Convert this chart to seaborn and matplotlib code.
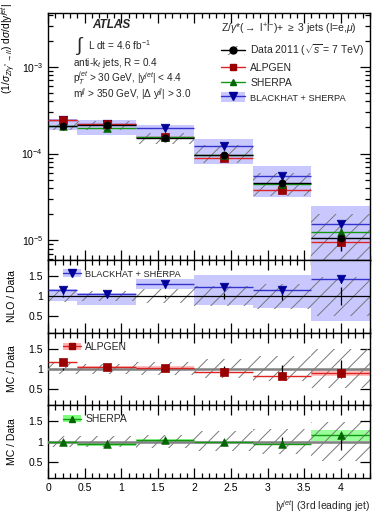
import numpy as np
import pandas as pd
import matplotlib
matplotlib.use("Agg")
import matplotlib.pyplot as plt
import seaborn as sns
from matplotlib.patches import Patch
from matplotlib.lines import Line2D
from matplotlib.ticker import MultipleLocator, FixedLocator, NullFormatter

# ---------------- data ----------------
bin_edges = [0.0, 0.4, 1.2, 2.0, 2.8, 3.6, 4.4]
bin_centers = [0.2, 0.8, 1.6, 2.4, 3.2, 4.0]

data_xs = [2.10e-4, 2.12e-4, 1.53e-4, 9.7e-5, 4.6e-5, 1.06e-5]
data_band_lo = [1.89e-4, 1.89e-4, 1.28e-4, 7.8e-5, 3.2e-5, 5.0e-6]
data_band_hi = [2.40e-4, 2.36e-4, 1.72e-4, 1.25e-4, 6.0e-5, 2.0e-5]
data_stat_rel = [0.03, 0.03, 0.04, 0.07, 0.12, 0.30]

alpgen_xs = [2.45e-4, 2.22e-4, 1.55e-4, 8.9e-5, 3.75e-5, 9.5e-6]
sherpa_xs = [2.10e-4, 1.98e-4, 1.57e-4, 9.5e-5, 4.5e-5, 1.24e-5]
bh_xs = [2.42e-4, 2.20e-4, 1.99e-4, 1.21e-4, 5.45e-5, 1.52e-5]
bh_band_lo = [1.86e-4, 1.66e-4, 1.55e-4, 7.6e-5, 3.16e-5, 4.0e-6]
bh_band_hi = [2.52e-4, 2.43e-4, 2.16e-4, 1.49e-4, 7.1e-5, 2.46e-5]

ratio_data_lo = [0.86, 0.87, 0.84, 0.77, 0.69, 0.52]
ratio_data_hi = [1.14, 1.13, 1.17, 1.25, 1.31, 1.48]
ratio_stat = [0.03, 0.03, 0.04, 0.07, 0.10, 0.22]

bh_ratio = [1.15, 1.05, 1.30, 1.24, 1.15, 1.43]
bh_ratio_lo = [0.89, 0.78, 1.18, 0.78, 0.70, 0.39]
bh_ratio_hi = [1.17, 1.09, 1.44, 1.54, 1.53, 1.95]

alpgen_ratio = [1.17, 1.05, 1.03, 0.91, 0.81, 0.90]
alpgen_ratio_err = [0.01, 0.03, 0.03, 0.01, 0.01, 0.09]
sherpa_ratio = [1.00, 0.94, 1.03, 0.98, 0.95, 1.15]
sherpa_ratio_err = [0.01, 0.04, 0.04, 0.01, 0.02, 0.13]

x_ticks = [0, 0.5, 1, 1.5, 2, 2.5, 3, 3.5, 4]

# ---------------- style ----------------
sns.set_theme(style="ticks")
plt.rcParams['font.family'] = ['Liberation Sans', 'DejaVu Sans']
plt.rcParams['mathtext.fontset'] = 'custom'
plt.rcParams['mathtext.rm'] = 'Liberation Sans'
plt.rcParams['mathtext.it'] = 'Liberation Sans:italic'
plt.rcParams['mathtext.bf'] = 'Liberation Sans:bold'
plt.rcParams['hatch.linewidth'] = 0.7
plt.rcParams['axes.linewidth'] = 1.0
FS = 7.5
FT = 7.2
FBH = 6.7

C_ALP_M, C_ALP_L, C_ALP_B = '#990000', '#dd2222', '#ffb0b0'
C_SH_M, C_SH_L, C_SH_B = '#006600', '#119911', '#80ff80'
C_BH_M, C_BH_L, C_BH_B = '#000099', '#3333cc', '#c8c8ff'
C_HATCH = '#777777'

edges = np.array(bin_edges)
lo_e, hi_e = edges[:-1], edges[1:]

df = pd.DataFrame({
    'x': bin_centers,
    'data': data_xs, 'alpgen': alpgen_xs, 'sherpa': sherpa_xs, 'bh': bh_xs,
    'r_bh': bh_ratio, 'r_alp': alpgen_ratio, 'r_sh': sherpa_ratio,
})

fig = plt.figure(figsize=(3.9, 5.2), dpi=100)
L, R = 48 / 390, 370 / 390
def yfrac(px):
    return 1 - px / 520

ax0 = fig.add_axes([L, yfrac(260), R - L, yfrac(13) - yfrac(260)])
ax1 = fig.add_axes([L, yfrac(332.5), R - L, yfrac(260) - yfrac(332.5)])
ax2 = fig.add_axes([L, yfrac(405), R - L, yfrac(332.5) - yfrac(405)])
ax3 = fig.add_axes([L, yfrac(478), R - L, yfrac(405) - yfrac(478)])


def band(ax, lo, hi, color, z, alpha=1.0):
    for a, b, l, h in zip(lo_e, hi_e, lo, hi):
        ax.fill_between([a, b], [l, l], [h, h], color=color, lw=0, zorder=z, alpha=alpha)


def hatch(ax, lo, hi, z):
    for a, b, l, h in zip(lo_e, hi_e, lo, hi):
        ax.fill_between([a, b], [l, l], [h, h], facecolor='none', edgecolor=C_HATCH,
                        hatch='//', lw=0, zorder=z)


def steps(ax, vals, color, z, lw=1.0):
    ax.hlines(vals, lo_e, hi_e, colors=color, lw=lw, zorder=z)


# ---------------- main panel ----------------
ax0.set_yscale('log')
band(ax0, bh_band_lo, bh_band_hi, C_BH_B, 1)
hatch(ax0, data_band_lo, data_band_hi, 2)
steps(ax0, bh_xs, C_BH_L, 3)
steps(ax0, alpgen_xs, C_ALP_L, 3)
steps(ax0, sherpa_xs, C_SH_L, 3)
steps(ax0, data_xs, 'black', 3.5)
dxs = np.array(data_xs)
st = np.array(data_stat_rel)
ax0.vlines(bin_centers, dxs * (1 - st), dxs * (1 + st), colors='black', lw=1.0, zorder=4)
sns.scatterplot(data=df, x='x', y='bh', marker='v', s=38, color=C_BH_M, edgecolor=C_BH_M,
                linewidth=0.5, ax=ax0, zorder=5, legend=False)
sns.scatterplot(data=df, x='x', y='alpgen', marker='s', s=26, color=C_ALP_M, edgecolor=C_ALP_M,
                linewidth=0.5, ax=ax0, zorder=5, legend=False)
sns.scatterplot(data=df, x='x', y='sherpa', marker='^', s=30, color=C_SH_M, edgecolor=C_SH_M,
                linewidth=0.5, ax=ax0, zorder=5, legend=False)
sns.scatterplot(data=df, x='x', y='data', marker='o', s=26, color='black', edgecolor='black',
                linewidth=0.5, ax=ax0, zorder=6, legend=False)
ax0.set_ylim(5.9e-6, 4.2e-3)

# texts
ax0.text(92 / 390, yfrac(25), 'ATLAS', transform=fig.transFigure, fontsize=8.5,
         fontweight='bold', fontstyle='italic', va='center', ha='left')
ax0.text(76 / 390, yfrac(46), r'$\int$', transform=fig.transFigure, fontsize=14,
         va='center', ha='left')
ax0.text(88 / 390, yfrac(45), r'L dt = 4.6 fb$^{-1}$', transform=fig.transFigure,
         fontsize=FT, va='center', ha='left')
ax0.text(73 / 390, yfrac(63), r'anti-k$_{t}$ jets, R = 0.4', transform=fig.transFigure,
         fontsize=FT, va='center', ha='left')
ax0.text(73 / 390, yfrac(78), r'p$_{T}^{jet}$ > 30 GeV, |y$^{jet}$| < 4.4',
         transform=fig.transFigure, fontsize=FT, va='center', ha='left')
ax0.text(73 / 390, yfrac(94), r'm$^{jj}$ > 350 GeV, |$\Delta$ y$^{jj}$| > 3.0',
         transform=fig.transFigure, fontsize=FT, va='center', ha='left')

# legend
h_data = (Patch(facecolor='none', edgecolor=C_HATCH, hatch='//', lw=0),
          Line2D([], [], color='black', marker='o', markersize=5, lw=1))
h_alp = Line2D([], [], color=C_ALP_L, marker='s', markersize=4.5, markerfacecolor=C_ALP_M,
               markeredgecolor=C_ALP_M, lw=1)
h_sh = Line2D([], [], color=C_SH_L, marker='^', markersize=5, markerfacecolor=C_SH_M,
              markeredgecolor=C_SH_M, lw=1)
h_bh = (Patch(facecolor=C_BH_B, lw=0),
        Line2D([], [], color=C_BH_L, marker='v', markersize=5.5, markerfacecolor=C_BH_M,
               markeredgecolor=C_BH_M, lw=1))
leg = ax0.legend([h_data, h_alp, h_sh, h_bh],
                 [r'Data 2011 ($\sqrt{s}$ = 7 TeV)', 'ALPGEN', 'SHERPA', 'BLACKHAT + SHERPA'],
                 title=r'Z/$\gamma$*($\rightarrow$ l$^{+}$l$^{-}$)+ $\geq$ 3 jets (l=e,$\mu$)',
                 loc='upper left', bbox_to_anchor=(216 / 390, yfrac(17)),
                 bbox_transform=fig.transFigure, frameon=False, fontsize=FS,
                 title_fontsize=FS, handlelength=2.3, handleheight=1.0,
                 labelspacing=0.45, borderpad=0, handletextpad=0.5)
leg._legend_box.align = 'left'
leg.get_texts()[3].set_fontsize(FBH)

ax0.set_ylabel(r'(1/$\sigma_{Z/\gamma^{*}\rightarrow ll}$) d$\sigma$/d|y$^{jet}$|',
               fontsize=FS, loc='top')
ax0.yaxis.set_label_coords(-0.093, 1.04)


# ---------------- ratio panels ----------------
def ratio_base(ax):
    hatch(ax, ratio_data_lo, ratio_data_hi, 2)
    ax.set_ylim(0.1, 1.9)
    ax.yaxis.set_major_locator(FixedLocator([0.5, 1.0, 1.5]))
    ax.yaxis.set_minor_locator(FixedLocator([]))
    ax.set_yticklabels(['0.5', '1', '1.5'])


LEG_KW = dict(loc='upper left', bbox_to_anchor=(0.025, 0.97), frameon=False, fontsize=FS,
              handlelength=1.7, handletextpad=0.4, borderpad=0.2)

# NLO
band(ax1, bh_ratio_lo, bh_ratio_hi, C_BH_B, 1)
ratio_base(ax1)
ax1.axhline(1.0, color='black', lw=0.9, zorder=3)
ax1.vlines(bin_centers, 1 - np.array(ratio_stat), 1 + np.array(ratio_stat),
           colors='black', lw=0.9, zorder=4)
steps(ax1, bh_ratio, C_BH_L, 3.5)
sns.scatterplot(data=df, x='x', y='r_bh', marker='v', s=38, color=C_BH_M, edgecolor=C_BH_M,
                linewidth=0.5, ax=ax1, zorder=5, legend=False)
ax1.set_ylabel('NLO / Data', fontsize=FS)
leg1 = ax1.legend([h_bh], ['BLACKHAT + SHERPA'], **LEG_KW)
leg1.get_texts()[0].set_fontsize(FBH)

# ALPGEN
ratio_base(ax2)
ax2.axhline(1.0, color='#808080', lw=1.8, zorder=3)
ae = np.array(alpgen_ratio_err)
ar = np.array(alpgen_ratio)
band(ax2, ar - ae, ar + ae, C_ALP_B, 1, alpha=0.8)
ax2.vlines(bin_centers, 1 - np.array(ratio_stat), 1 + np.array(ratio_stat),
           colors='black', lw=0.9, zorder=4)
steps(ax2, alpgen_ratio, C_ALP_L, 3.5)
sns.scatterplot(data=df, x='x', y='r_alp', marker='s', s=26, color=C_ALP_M, edgecolor=C_ALP_M,
                linewidth=0.5, ax=ax2, zorder=5, legend=False)
ax2.set_ylabel('MC / Data', fontsize=FS)
h_alp_b = (Patch(facecolor=C_ALP_B, lw=0), h_alp)
ax2.legend([h_alp_b], ['ALPGEN'], **LEG_KW)

# SHERPA
ratio_base(ax3)
ax3.axhline(1.0, color='#808080', lw=1.8, zorder=3)
se = np.array(sherpa_ratio_err)
sr = np.array(sherpa_ratio)
band(ax3, sr - se, sr + se, C_SH_B, 1, alpha=0.8)
ax3.vlines(bin_centers, 1 - np.array(ratio_stat), 1 + np.array(ratio_stat),
           colors='black', lw=0.9, zorder=4)
steps(ax3, sherpa_ratio, C_SH_L, 3.5)
sns.scatterplot(data=df, x='x', y='r_sh', marker='^', s=30, color=C_SH_M, edgecolor=C_SH_M,
                linewidth=0.5, ax=ax3, zorder=5, legend=False)
ax3.set_ylabel('MC / Data', fontsize=FS)
h_sh_b = (Patch(facecolor=C_SH_B, lw=0), h_sh)
ax3.legend([h_sh_b], ['SHERPA'], **LEG_KW)

# ---------------- axes cosmetics ----------------
for ax in (ax0, ax1, ax2, ax3):
    ax.set_xlim(0, 4.4)
    ax.xaxis.set_major_locator(FixedLocator(x_ticks))
    ax.xaxis.set_minor_locator(MultipleLocator(0.1))
    ax.tick_params(which='both', direction='in', top=True, right=True, labelsize=FS,
                   width=0.9, colors='black')
    ax.tick_params(which='major', length=7)
    ax.tick_params(which='minor', length=3.5)
    ax.set_xlabel('')
    for s in ax.spines.values():
        s.set_color('black')
    ax.yaxis.label.set_color('black')

for ax in (ax1, ax2, ax3):
    ax.yaxis.set_label_coords(-0.097, 0.5)

for ax in (ax0, ax1, ax2):
    ax.xaxis.set_major_formatter(NullFormatter())

ax3.set_xticklabels(['0', '0.5', '1', '1.5', '2', '2.5', '3', '3.5', '4'])
ax3.set_xlabel(r'|y$^{jet}$| (3rd leading jet)', fontsize=FS, loc='right')

fig.savefig('out.png', dpi=100)
